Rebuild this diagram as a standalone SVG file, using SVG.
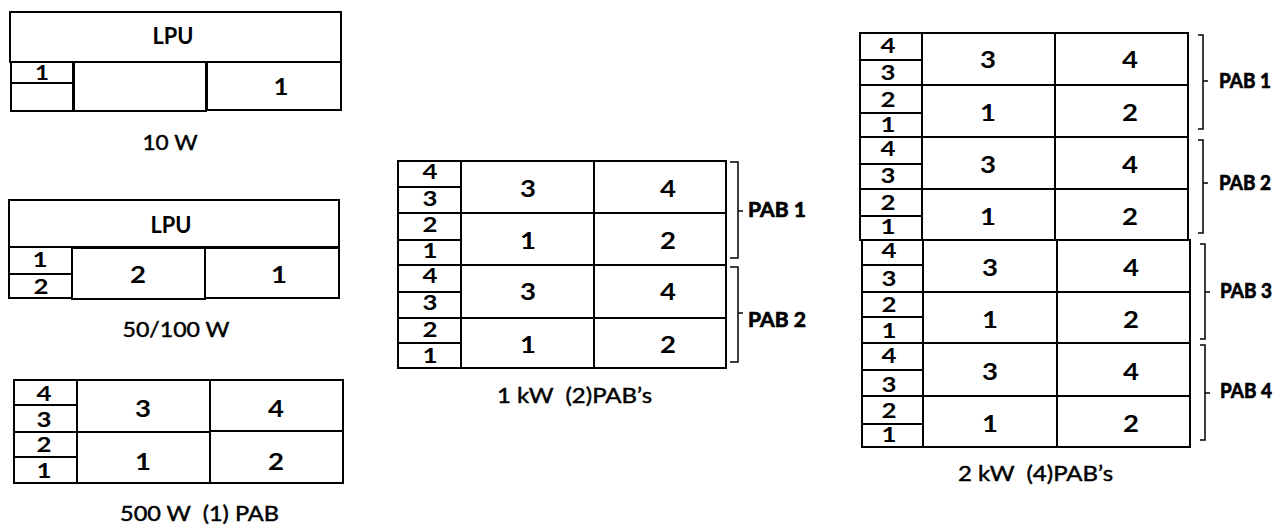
<svg xmlns="http://www.w3.org/2000/svg" width="1276" height="524" viewBox="0 0 1276 524">
<style>
.b{fill:#fff;stroke:#000;stroke-width:2}
.t{font-family:Lato,"Liberation Sans",sans-serif;font-weight:bold;font-size:22px;text-anchor:middle;fill:#000}
.s{font-family:Lato,"Liberation Sans",sans-serif;font-weight:bold;font-size:21px;text-anchor:middle;fill:#000}
.c{font-family:Lato,"Liberation Sans",sans-serif;font-weight:normal;font-size:21px;text-anchor:middle;fill:#000;stroke:#000;stroke-width:0.45;white-space:pre}
.p{font-family:Lato,"Liberation Sans",sans-serif;font-weight:bold;font-size:20px;fill:#000;stroke:#000;stroke-width:0.7}
.br{fill:none;stroke:#000;stroke-width:1.5}
</style>
<rect width="1276" height="524" fill="#fff"/>

<g id="p10w">
<rect class="b" x="10" y="12" width="331" height="50"/>
<text class="t" x="173" y="44" textLength="41" lengthAdjust="spacingAndGlyphs">LPU</text>
<rect class="b" x="11" y="62" width="62" height="21"/>
<text class="s" x="42" y="80" textLength="14" lengthAdjust="spacingAndGlyphs">1</text>
<rect class="b" x="11" y="83" width="62" height="28"/>
<rect class="b" x="74" y="62" width="132" height="49"/>
<rect class="b" x="207" y="62" width="134" height="48"/>
<text class="t" x="281" y="95" textLength="15" lengthAdjust="spacingAndGlyphs">1</text>
<text class="c" x="170" y="150" textLength="55" lengthAdjust="spacingAndGlyphs">10 W</text>
</g>

<g id="p50w">
<rect class="b" x="9" y="200" width="330" height="47"/>
<text class="t" x="171" y="233" textLength="41" lengthAdjust="spacingAndGlyphs">LPU</text>
<rect class="b" x="9" y="247" width="63" height="27"/>
<text class="s" x="40" y="267" textLength="15" lengthAdjust="spacingAndGlyphs">1</text>
<rect class="b" x="9" y="274" width="63" height="24"/>
<text class="s" x="41" y="294" textLength="15" lengthAdjust="spacingAndGlyphs">2</text>
<rect class="b" x="72" y="248" width="133" height="51"/>
<text class="t" x="138" y="283" textLength="16" lengthAdjust="spacingAndGlyphs">2</text>
<rect class="b" x="205" y="248" width="134" height="50"/>
<text class="t" x="279" y="283" textLength="16" lengthAdjust="spacingAndGlyphs">1</text>
<text class="c" x="176" y="337" textLength="107" lengthAdjust="spacingAndGlyphs">50/100 W</text>
</g>

<g id="p500w">
<rect class="b" x="14" y="380" width="63" height="25"/>
<rect class="b" x="14" y="405" width="63" height="27"/>
<rect class="b" x="14" y="432" width="63" height="25"/>
<rect class="b" x="14" y="457" width="63" height="26"/>
<text class="s" x="44" y="401" textLength="15" lengthAdjust="spacingAndGlyphs">4</text>
<text class="s" x="44" y="427" textLength="15" lengthAdjust="spacingAndGlyphs">3</text>
<text class="s" x="44" y="452" textLength="15" lengthAdjust="spacingAndGlyphs">2</text>
<text class="s" x="44" y="478" textLength="15" lengthAdjust="spacingAndGlyphs">1</text>
<rect class="b" x="77" y="380" width="133" height="52"/>
<rect class="b" x="210" y="380" width="133" height="51"/>
<rect class="b" x="77" y="432" width="133" height="51"/>
<rect class="b" x="210" y="431" width="133" height="52"/>
<text class="t" x="143" y="417" textLength="16" lengthAdjust="spacingAndGlyphs">3</text>
<text class="t" x="276" y="417" textLength="16" lengthAdjust="spacingAndGlyphs">4</text>
<text class="t" x="143" y="470" textLength="16" lengthAdjust="spacingAndGlyphs">1</text>
<text class="t" x="276" y="470" textLength="16" lengthAdjust="spacingAndGlyphs">2</text>
<text class="c" x="199.5" y="521" textLength="159" lengthAdjust="spacingAndGlyphs">500 W  (1) PAB</text>
</g>

<g id="p1kw">
<rect class="b" x="398" y="161" width="63" height="26"/>
<rect class="b" x="398" y="187" width="63" height="26"/>
<rect class="b" x="398" y="213" width="63" height="27"/>
<rect class="b" x="398" y="240" width="63" height="25"/>
<rect class="b" x="398" y="265" width="63" height="27"/>
<rect class="b" x="398" y="292" width="63" height="26"/>
<rect class="b" x="398" y="318" width="63" height="25"/>
<rect class="b" x="398" y="343" width="63" height="25"/>
<text class="s" x="430" y="179" textLength="15" lengthAdjust="spacingAndGlyphs">4</text>
<text class="s" x="430" y="206" textLength="15" lengthAdjust="spacingAndGlyphs">3</text>
<text class="s" x="430" y="232" textLength="15" lengthAdjust="spacingAndGlyphs">2</text>
<text class="s" x="430" y="258" textLength="15" lengthAdjust="spacingAndGlyphs">1</text>
<text class="s" x="430" y="283" textLength="15" lengthAdjust="spacingAndGlyphs">4</text>
<text class="s" x="430" y="310" textLength="15" lengthAdjust="spacingAndGlyphs">3</text>
<text class="s" x="430" y="337" textLength="15" lengthAdjust="spacingAndGlyphs">2</text>
<text class="s" x="430" y="363" textLength="15" lengthAdjust="spacingAndGlyphs">1</text>
<rect class="b" x="461" y="161" width="133" height="52"/>
<rect class="b" x="594" y="161" width="132" height="52"/>
<rect class="b" x="461" y="213" width="133" height="52"/>
<rect class="b" x="594" y="213" width="132" height="52"/>
<rect class="b" x="461" y="265" width="133" height="53"/>
<rect class="b" x="594" y="265" width="132" height="53"/>
<rect class="b" x="461" y="318" width="133" height="50"/>
<rect class="b" x="594" y="318" width="132" height="50"/>
<text class="t" x="528" y="197" textLength="16" lengthAdjust="spacingAndGlyphs">3</text>
<text class="t" x="668" y="197" textLength="16" lengthAdjust="spacingAndGlyphs">4</text>
<text class="t" x="528" y="249" textLength="16" lengthAdjust="spacingAndGlyphs">1</text>
<text class="t" x="668" y="249" textLength="16" lengthAdjust="spacingAndGlyphs">2</text>
<text class="t" x="528" y="300" textLength="16" lengthAdjust="spacingAndGlyphs">3</text>
<text class="t" x="668" y="300" textLength="16" lengthAdjust="spacingAndGlyphs">4</text>
<text class="t" x="528" y="353" textLength="16" lengthAdjust="spacingAndGlyphs">1</text>
<text class="t" x="668" y="353" textLength="16" lengthAdjust="spacingAndGlyphs">2</text>
<text class="p" x="748" y="217" textLength="58" lengthAdjust="spacingAndGlyphs">PAB 1</text>
<text class="p" x="748" y="327" textLength="58" lengthAdjust="spacingAndGlyphs">PAB 2</text>
<text class="c" x="574.5" y="403" textLength="155" lengthAdjust="spacingAndGlyphs">1 kW  (2)PAB’s</text>
</g>

<g id="p2kw">
<rect class="b" x="860" y="33" width="62" height="27"/>
<rect class="b" x="860" y="60" width="62" height="25"/>
<rect class="b" x="860" y="85" width="62" height="28"/>
<rect class="b" x="860" y="113" width="62" height="24"/>
<rect class="b" x="860" y="137" width="62" height="27"/>
<rect class="b" x="860" y="164" width="62" height="25"/>
<rect class="b" x="860" y="189" width="62" height="27"/>
<rect class="b" x="860" y="216" width="62" height="24"/>
<rect class="b" x="862" y="240" width="61" height="25"/>
<rect class="b" x="862" y="265" width="61" height="27"/>
<rect class="b" x="862" y="292" width="61" height="25"/>
<rect class="b" x="862" y="317" width="61" height="26"/>
<rect class="b" x="862" y="343" width="61" height="27"/>
<rect class="b" x="862" y="370" width="61" height="26"/>
<rect class="b" x="862" y="396" width="61" height="28"/>
<rect class="b" x="862" y="424" width="61" height="23"/>
<text class="s" x="888" y="53" textLength="15" lengthAdjust="spacingAndGlyphs">4</text>
<text class="s" x="888" y="80" textLength="15" lengthAdjust="spacingAndGlyphs">3</text>
<text class="s" x="888" y="107" textLength="15" lengthAdjust="spacingAndGlyphs">2</text>
<text class="s" x="888" y="132" textLength="15" lengthAdjust="spacingAndGlyphs">1</text>
<text class="s" x="888" y="156" textLength="15" lengthAdjust="spacingAndGlyphs">4</text>
<text class="s" x="888" y="183" textLength="15" lengthAdjust="spacingAndGlyphs">3</text>
<text class="s" x="888" y="210" textLength="15" lengthAdjust="spacingAndGlyphs">2</text>
<text class="s" x="888" y="234" textLength="15" lengthAdjust="spacingAndGlyphs">1</text>
<text class="s" x="889" y="258" textLength="15" lengthAdjust="spacingAndGlyphs">4</text>
<text class="s" x="889" y="286" textLength="15" lengthAdjust="spacingAndGlyphs">3</text>
<text class="s" x="889" y="312" textLength="15" lengthAdjust="spacingAndGlyphs">2</text>
<text class="s" x="889" y="338" textLength="15" lengthAdjust="spacingAndGlyphs">1</text>
<text class="s" x="889" y="363" textLength="15" lengthAdjust="spacingAndGlyphs">4</text>
<text class="s" x="889" y="392" textLength="15" lengthAdjust="spacingAndGlyphs">3</text>
<text class="s" x="889" y="418" textLength="15" lengthAdjust="spacingAndGlyphs">2</text>
<text class="s" x="889" y="442" textLength="15" lengthAdjust="spacingAndGlyphs">1</text>
<rect class="b" x="922" y="33" width="133" height="52"/>
<rect class="b" x="1055" y="33" width="133" height="52"/>
<rect class="b" x="922" y="85" width="133" height="52"/>
<rect class="b" x="1055" y="85" width="133" height="52"/>
<rect class="b" x="922" y="137" width="133" height="52"/>
<rect class="b" x="1055" y="137" width="133" height="52"/>
<rect class="b" x="922" y="189" width="133" height="51"/>
<rect class="b" x="1055" y="189" width="133" height="51"/>
<rect class="b" x="923" y="240" width="134" height="52"/>
<rect class="b" x="1057" y="240" width="133" height="52"/>
<rect class="b" x="923" y="292" width="134" height="51"/>
<rect class="b" x="1057" y="292" width="133" height="51"/>
<rect class="b" x="923" y="343" width="134" height="53"/>
<rect class="b" x="1057" y="343" width="133" height="53"/>
<rect class="b" x="923" y="396" width="134" height="51"/>
<rect class="b" x="1057" y="396" width="133" height="51"/>
<text class="t" x="988" y="68" textLength="16" lengthAdjust="spacingAndGlyphs">3</text>
<text class="t" x="1130" y="68" textLength="16" lengthAdjust="spacingAndGlyphs">4</text>
<text class="t" x="988" y="121" textLength="16" lengthAdjust="spacingAndGlyphs">1</text>
<text class="t" x="1130" y="121" textLength="16" lengthAdjust="spacingAndGlyphs">2</text>
<text class="t" x="988" y="173" textLength="16" lengthAdjust="spacingAndGlyphs">3</text>
<text class="t" x="1130" y="173" textLength="16" lengthAdjust="spacingAndGlyphs">4</text>
<text class="t" x="988" y="225" textLength="16" lengthAdjust="spacingAndGlyphs">1</text>
<text class="t" x="1130" y="225" textLength="16" lengthAdjust="spacingAndGlyphs">2</text>
<text class="t" x="990" y="276" textLength="16" lengthAdjust="spacingAndGlyphs">3</text>
<text class="t" x="1131" y="276" textLength="16" lengthAdjust="spacingAndGlyphs">4</text>
<text class="t" x="990" y="328" textLength="16" lengthAdjust="spacingAndGlyphs">1</text>
<text class="t" x="1131" y="328" textLength="16" lengthAdjust="spacingAndGlyphs">2</text>
<text class="t" x="990" y="380" textLength="16" lengthAdjust="spacingAndGlyphs">3</text>
<text class="t" x="1131" y="380" textLength="16" lengthAdjust="spacingAndGlyphs">4</text>
<text class="t" x="990" y="432" textLength="16" lengthAdjust="spacingAndGlyphs">1</text>
<text class="t" x="1131" y="432" textLength="16" lengthAdjust="spacingAndGlyphs">2</text>
<text class="p" x="1219" y="88" textLength="52" lengthAdjust="spacingAndGlyphs">PAB 1</text>
<text class="p" x="1219" y="190" textLength="52" lengthAdjust="spacingAndGlyphs">PAB 2</text>
<text class="p" x="1220" y="298" textLength="52" lengthAdjust="spacingAndGlyphs">PAB 3</text>
<text class="p" x="1220" y="398" textLength="52" lengthAdjust="spacingAndGlyphs">PAB 4</text>
<text class="c" x="1035.5" y="481" textLength="155" lengthAdjust="spacingAndGlyphs">2 kW  (4)PAB’s</text>
</g>

<g id="connectors">
<path class="br" d="M730,162 H738 V258 H730 M738,211 H743"/>
<path class="br" d="M730,267 H738 V362 H730 M738,313 H743"/>
<path class="br" d="M1198,35 H1203 V129 H1198 M1203,81 H1208"/>
<path class="br" d="M1198,140 H1203 V233 H1198 M1203,183 H1208"/>
<path class="br" d="M1200,244 H1205 V339 H1200 M1205,292 H1210"/>
<path class="br" d="M1200,345 H1205 V440 H1200 M1205,393 H1210"/>
</g>
</svg>
